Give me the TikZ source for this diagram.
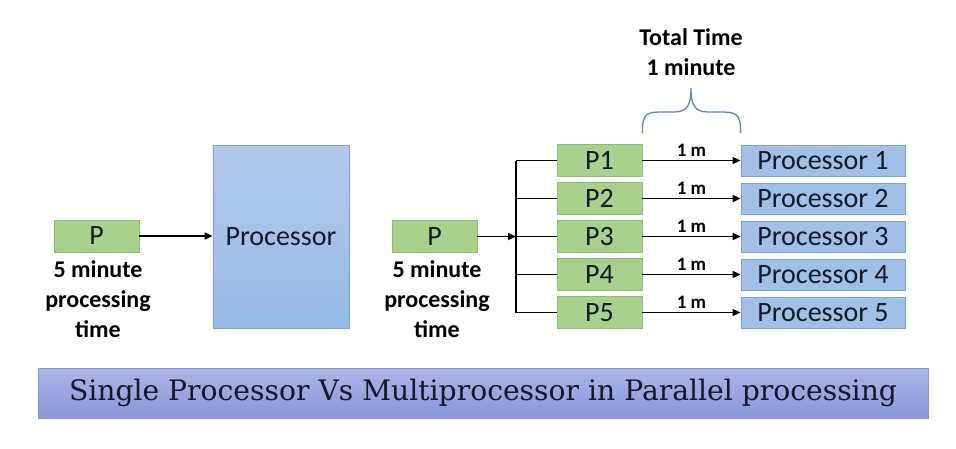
\documentclass[tikz,border=0pt]{standalone}
\usepackage{fontspec}
\setmainfont{Carlito}
\newfontfamily\titlefont{DejaVu Serif}
\usetikzlibrary{arrows.meta}
\definecolor{gfill}{RGB}{169,209,142}
\definecolor{gline}{RGB}{140,190,110}
\definecolor{bfill}{RGB}{160,192,232}
\definecolor{bline}{RGB}{120,160,215}
\definecolor{btop}{RGB}{178,202,236}
\definecolor{bbot}{RGB}{150,185,230}
\definecolor{ttop}{RGB}{172,182,232}
\definecolor{tbot}{RGB}{135,150,215}
\definecolor{tline}{RGB}{140,152,205}
\definecolor{brace}{RGB}{90,130,200}
\definecolor{ink}{RGB}{20,25,40}
\tikzset{
  pbox/.style={draw=gline, fill=gfill, line width=0.8pt, minimum width=85pt, minimum height=32pt, inner sep=0pt, text=ink, font=\fontsize{28}{30}\selectfont},
  procbox/.style={draw=bline, fill=bfill, line width=0.8pt, minimum width=164pt, minimum height=31pt, inner sep=0pt, text=ink, font=\fontsize{28}{30}\selectfont},
  conn/.style={line width=1.8pt, draw=black},
  arr/.style={conn, -{Triangle[length=8pt,width=7pt]}},
  lbl/.style={font=\fontsize{24}{30}\selectfont\bfseries, align=center, inner sep=0pt},
  mlbl/.style={font=\fontsize{19}{20}\selectfont\bfseries, inner sep=0pt}
}
\begin{document}
\begin{tikzpicture}[x=1pt,y=-1pt]
\useasboundingbox (0,0) rectangle (956,448);
% left side
\node[pbox] (P) at (96.5,236) {P};
\node[draw=bline, line width=0.8pt, top color=btop, bottom color=bbot, minimum width=136pt, minimum height=183pt, inner sep=0pt, text=ink, font=\fontsize{28}{30}\selectfont] (Proc) at (281,236.5) {Processor};
\draw[arr] (P.east) -- (Proc.west |- P.east);
\node[lbl, anchor=north] (Plbl) at (98,260) {5 minute\\processing\\time};
% right side
\node[pbox] (Q) at (434.5,236.5) {P};
\node[lbl, anchor=north] (Qlbl) at (437,260) {5 minute\\processing\\time};
\coordinate (bus) at (516,236.5);
\foreach \i/\y in {1/160.5,2/198.5,3/236.5,4/274.5,5/312.5}{
  \node[pbox] (P\i) at (599.5,\y) {P\i};
  \node[procbox] (R\i) at (823,\y) {Processor \i};
  \draw[arr] (P\i.east) -- node[mlbl, above=3pt] (m\i) {1 m} (R\i.west);
  \draw[conn] (P\i.west) -- (P\i.west -| bus);
}
\draw[conn] (P1.west -| bus) -- (P5.west -| bus);
\draw[arr] (Q.east) -- (bus);
% brace
\draw[brace, line width=1.3pt] (P1.east |- 0,133) .. controls (642,112) and (648,112) .. (664,112) -- (674,112) .. controls (688,112) and (691,104) .. (691,88) .. controls (691,104) and (694,112) .. (708,112) -- (718,112) .. controls (735,112) and (741,112) .. (R1.west |- 0,133);
\node[lbl] (tt) at (691,37) {Total Time};
\node[lbl] (tm) at (691,67) {1 minute};
% title
\node[draw=tline, line width=0.8pt, top color=ttop, bottom color=tbot, minimum width=890pt, minimum height=50pt, inner sep=0pt, text=ink] (title) at (483,393) {\resizebox{828pt}{!}{\titlefont\fontsize{26}{28}\selectfont Single Processor Vs Multiprocessor in Parallel processing}};
\end{tikzpicture}
\end{document}
